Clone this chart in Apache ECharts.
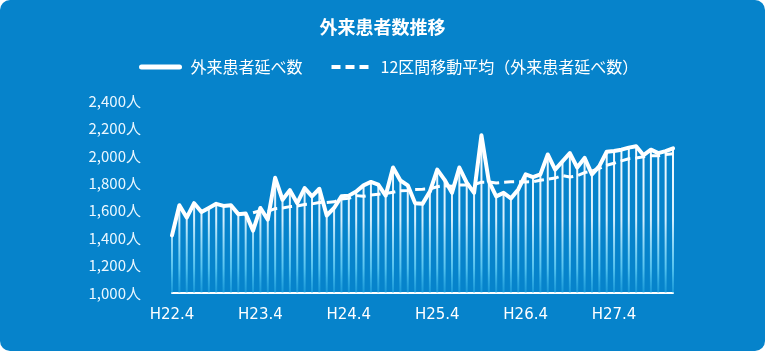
<!DOCTYPE html>
<html>
<head>
<meta charset="utf-8">
<script src="https://cdn.jsdelivr.net/npm/echarts@6/dist/echarts.min.js"></script>
<style>
  html, body { margin: 0; padding: 0; background: #ffffff; }
  #panel {
    width: 765px; height: 351px;
    background: #0683cb;
    border-radius: 10px;
    overflow: hidden;
  }
  #chart { width: 765px; height: 351px; }
</style>
</head>
<body>
<div id="panel"><div id="chart"></div></div>
<script>
// Monthly outpatient visits, H22.4 through H27.12
const startYear = 22;
const startMonth = 4;
const monthCount = 69;

const visits = [
  1420, 1640, 1550, 1655, 1590, 1620, 1650, 1635, 1640, 1575, 1580, 1455,
  1620, 1535, 1840, 1680, 1750, 1655, 1765, 1705, 1760, 1565, 1620, 1705,
  1710, 1740, 1785, 1810, 1790, 1710, 1915, 1820, 1785, 1655, 1650, 1740,
  1900, 1825, 1730, 1915, 1805, 1730, 2150, 1815, 1705, 1730, 1690, 1755,
  1865, 1845, 1865, 2010, 1900, 1960, 2020, 1915, 1985, 1865, 1925, 2030,
  2035, 2045, 2060, 2070, 2005, 2045, 2020, 2035, 2055
];

// 12-month moving average; no value for the first 11 months
const movingAvg = [
  null, null, null, null, null, null, null, null, null, null, null, 1585,
  1600, 1595, 1615, 1620, 1630, 1635, 1645, 1650, 1660, 1660, 1665, 1685,
  1690, 1710, 1705, 1715, 1720, 1725, 1735, 1745, 1748, 1755, 1757, 1760,
  1775, 1783, 1778, 1787, 1788, 1790, 1808, 1809, 1802, 1808, 1811, 1812,
  1810, 1811, 1822, 1830, 1838, 1856, 1846, 1855, 1878, 1889, 1909, 1932,
  1946, 1963, 1979, 1984, 1993, 2000, 2000, 2010, 2016
];

const yTicks = { min: 1000, max: 2400, step: 200 };

// Month labels "H22.4", "H22.5", ... (Japanese fiscal years start in April)
const months = [];
for (let i = 0; i < monthCount; i++) {
  const offset = startMonth - 1 + i;
  const m = offset % 12 + 1;
  const year = startYear + Math.floor(offset / 12);
  months.push('H' + year + '.' + m);
}

const chart = echarts.init(document.getElementById('chart'), null, { renderer: 'canvas' });

const textFont = '"Noto Sans CJK JP", "Noto Sans", sans-serif';

chart.setOption({
  backgroundColor: 'transparent',
  animation: false,
  title: {
    text: '外来患者数推移',
    left: 'center',
    top: 13,
    textStyle: { color: '#ffffff', fontSize: 18, fontWeight: 'bold', fontFamily: textFont }
  },
  legend: {
    top: 54,
    left: 134,
    itemWidth: 38,
    itemHeight: 14,
    itemGap: 27,
    itemStyle: { opacity: 0 },
    textStyle: { color: '#ffffff', fontSize: 16, fontFamily: textFont, padding: [0, 0, 0, 6] },
    data: [
      { name: '外来患者延べ数', lineStyle: { width: 5, type: 'solid' } },
      { name: '12区間移動平均（外来患者延べ数）', lineStyle: { width: 4, type: [9, 5] } }
    ]
  },
  grid: { left: 172, right: 92, top: 101, bottom: 58 },
  xAxis: {
    type: 'category',
    data: months,
    boundaryGap: false,
    axisLine: { show: true, lineStyle: { color: '#ffffff', width: 2 } },
    axisTick: { show: false },
    axisLabel: {
      interval: 11,
      color: '#ffffff',
      fontSize: 15,
      fontFamily: '"DejaVu Sans", sans-serif',
      margin: 15
    },
    splitLine: { show: false }
  },
  yAxis: {
    type: 'value',
    min: yTicks.min,
    max: yTicks.max,
    interval: yTicks.step,
    axisLine: { show: false },
    axisTick: { show: false },
    splitLine: { show: false },
    axisLabel: {
      color: '#eaf7ff',
      fontSize: 15,
      fontFamily: textFont,
      margin: 31,
      formatter: v => v.toLocaleString('en-US') + '人'
    }
  },
  series: [
    {
      name: 'stripes',
      type: 'bar',
      data: visits,
      barWidth: 2,
      silent: true,
      itemStyle: {
        color: {
          type: 'linear', x: 0, y: 130, x2: 0, y2: 293, global: true,
          colorStops: [
            { offset: 0, color: 'rgba(255,255,255,1)' },
            { offset: 0.55, color: 'rgba(225,245,255,0.95)' },
            { offset: 0.85, color: 'rgba(110,215,250,0.75)' },
            { offset: 1, color: 'rgba(60,190,240,0.35)' }
          ]
        }
      },
      z: 1
    },
    {
      name: '外来患者延べ数',
      type: 'line',
      data: visits,
      symbol: 'none',
      lineStyle: { color: '#ffffff', width: 4, join: 'round', cap: 'round' },
      itemStyle: { color: '#ffffff' },
      z: 3
    },
    {
      name: '12区間移動平均（外来患者延べ数）',
      type: 'line',
      data: movingAvg,
      symbol: 'none',
      connectNulls: false,
      lineStyle: { color: '#ffffff', width: 3, type: [10, 5] },
      itemStyle: { color: '#ffffff' },
      z: 4
    }
  ]
});
</script>
</body>
</html>
